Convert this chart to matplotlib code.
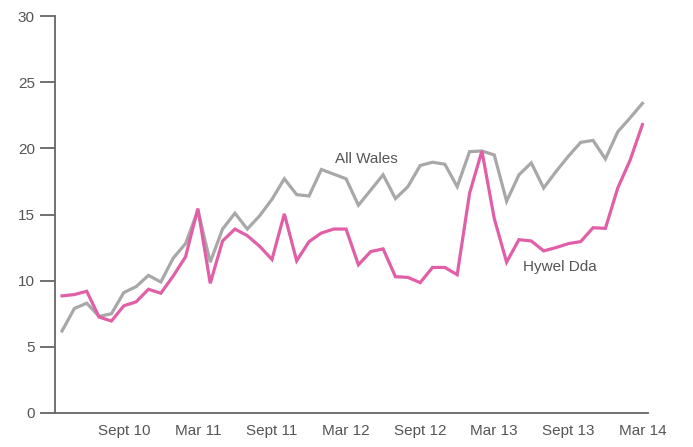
import matplotlib
matplotlib.use("Agg")
import matplotlib.pyplot as plt

plt.rcParams["font.family"] = ["Liberation Sans", "DejaVu Sans"]

# monthly, Apr 2010 .. Mar 2014
months = list(range(48))
all_wales = [6.2, 7.9, 8.3, 7.3, 7.5, 9.1, 9.55, 10.4, 9.9, 11.7, 12.8, 15.3,
             11.4, 13.9, 15.1, 13.9, 14.9, 16.15, 17.7, 16.5, 16.4, 18.4, 18.05, 17.7,
             15.7, 16.85, 18.0, 16.2, 17.1, 18.7, 18.95, 18.8, 17.1, 19.75, 19.8, 19.5,
             16.0, 18.0, 18.9, 17.0, 18.25, 19.4, 20.45, 20.6, 19.2, 21.25, 22.3, 23.4]
hywel_dda = [8.85, 8.95, 9.2, 7.25, 6.95, 8.1, 8.4, 9.35, 9.05, 10.35, 11.8, 15.45,
             9.8, 13.0, 13.9, 13.4, 12.6, 11.6, 15.05, 11.5, 12.95, 13.6, 13.9, 13.9,
             11.2, 12.2, 12.4, 10.3, 10.25, 9.85, 11.0, 11.0, 10.45, 16.6, 19.8, 14.7,
             11.4, 13.1, 13.0, 12.25, 12.5, 12.8, 12.95, 14.0, 13.95, 17.0, 19.1, 21.8]
tick_pos = [5, 11, 17, 23, 29, 35, 41, 47]
tick_labels = ["Sept 10", "Mar 11", "Sept 11", "Mar 12", "Sept 12", "Mar 13", "Sept 13", "Mar 14"]

grey = "#a8a8a8"
pink = "#e05fa7"
text_col = "#555555"

fig = plt.figure(figsize=(6.93, 4.47), dpi=100)
ax = fig.add_axes([55 / 693, 34 / 447, 593 / 693, 397 / 447])

ax.plot(months, all_wales, color=grey, lw=2.3, solid_joinstyle="miter")
ax.plot(months, hywel_dda, color=pink, lw=2.3, solid_joinstyle="miter")

ax.text(24.67, 18.87, "All Wales", color=text_col, fontsize=11, ha="center", va="baseline")
ax.text(40.28, 10.73, "Hywel Dda", color=text_col, fontsize=11, ha="center", va="baseline")

ax.set_xlim(-0.57, 47.45)
ax.set_ylim(0, 30)
ax.set_yticks(range(0, 31, 5))
ax.set_xticks(tick_pos)
ax.set_xticklabels(tick_labels)

for s in ["top", "right"]:
    ax.spines[s].set_visible(False)
for s in ["left", "bottom"]:
    ax.spines[s].set_color("#666666")
    ax.spines[s].set_linewidth(1.3)

ax.tick_params(axis="y", length=10.5, width=1.3, color="#666666", pad=4,
               labelsize=11, labelcolor=text_col)
ax.tick_params(axis="x", length=0, pad=8, labelsize=11, labelcolor=text_col)

fig.savefig("out.png", dpi=100)
